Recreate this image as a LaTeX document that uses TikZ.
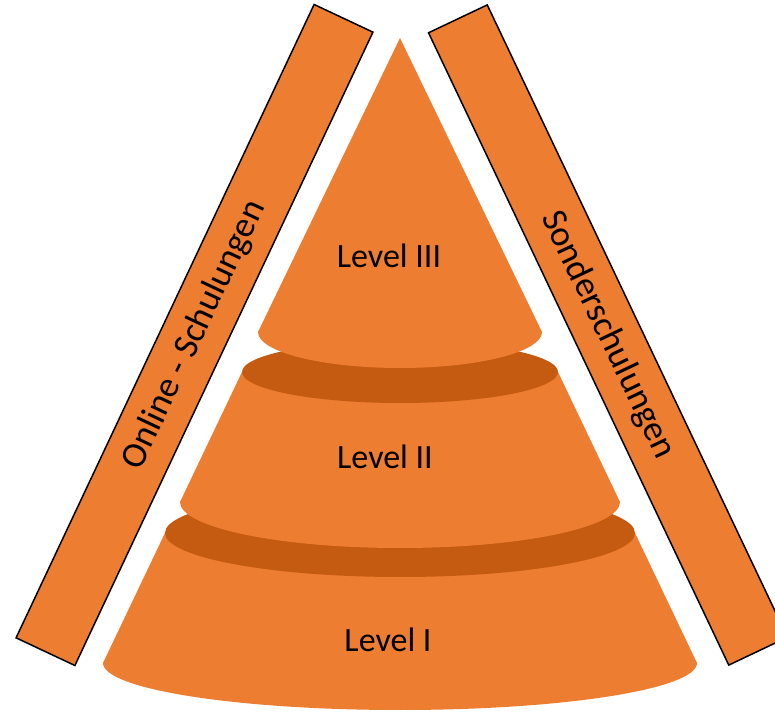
\documentclass[tikz,border=0pt]{standalone}
\usepackage{fontspec}
\setmainfont{Carlito}
\definecolor{cone}{HTML}{ED7D31}
\definecolor{conedark}{HTML}{C55A11}

\tikzstyle{bar}=[draw, line width=1.5pt, fill=cone, minimum width=700pt, minimum height=65pt, inner sep=0pt, font=\fontsize{36}{40}\selectfont]
\tikzstyle{tier}=[fill=cone]
\tikzstyle{rim}=[fill=conedark]
\tikzstyle{lvl}=[font=\fontsize{34}{38}\selectfont]

\begin{document}
\begin{tikzpicture}[x=1pt, y=1pt]
      \useasboundingbox (0,0) rectangle (775,711);
      \node[bar, rotate=64.8] (online) at (194.5,376) {Online - Schulungen};
      \node[bar, rotate=-64.6] (sonder) at (608,376) {Sonderschulungen};
      % tiers, bottom first
      \fill[tier] (165,178) -- (103,48) arc[start angle=180, end angle=360, x radius=297, y radius=47] -- (635,178) -- cycle;
      \fill[rim] (400,178) ellipse [x radius=235, y radius=44];
      \fill[tier] (242,339) -- (180,209) arc[start angle=180, end angle=360, x radius=220, y radius=46] -- (558,339) -- cycle;
      \fill[rim] (400,339) ellipse [x radius=158, y radius=31];
      \fill[tier] (400,673) -- (258,379) arc[start angle=180, end angle=360, x radius=142, y radius=36] -- cycle;
      \node[lvl] (l3) at (389,455) {Level III};
      \node[lvl] (l2) at (385,254) {Level II};
      \node[lvl] (l1) at (388,71) {Level I};
    \end{tikzpicture}
\end{document}
